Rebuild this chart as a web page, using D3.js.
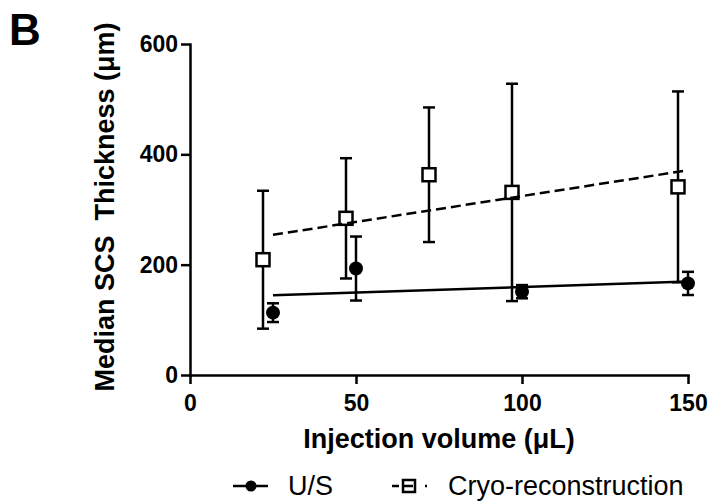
<!DOCTYPE html>
<meta charset="utf-8">
<style>
body { margin: 0; background: #fff; }
text { font-family: "Liberation Sans", Arial, sans-serif; fill: #000; }
.axis path, .axis line { stroke: #000; stroke-width: 2.5px; }
.axis path { stroke-linecap: square; }
.axis text { font-size: 23px; font-weight: bold; }
.bar { stroke: #000; stroke-width: 2.5px; }
.fit { fill: none; stroke: #000; stroke-width: 2.5px; }
</style>
<svg width="708" height="504"></svg>
<script src="https://d3js.org/d3.v7.min.js"></script>
<script>

// data
var usVolume = [25, 50, 100, 150];
var usMedian = [113, 193, 151, 166];
var usSD = [17, 58, 12, 21];

var cryoVolume = [25, 50, 75, 100, 150];
var cryoMedian = [209, 284, 363, 331, 341];
var cryoSD = [125, 109, 122, 197, 173];

var xTicks = [0, 50, 100, 150];
var yTicks = [0, 200, 400, 600];
var seriesNames = ["U/S", "Cryo-reconstruction"];

var svg = d3.select("svg");
svg.append("rect").attr("width", 708).attr("height", 504).attr("fill", "#fff");

var x = d3.scaleLinear().domain([0, 150]).range([190, 688]),
    y = d3.scaleLinear().domain([0, 600]).range([375, 44]);

var nudge = -10; // cryo points are shifted left a bit so bars don't overlap

function fit(xs, ys) {
  var mx = d3.mean(xs), my = d3.mean(ys), sxy = 0, sxx = 0;
  xs.forEach(function(v, i) {
    sxy += (v - mx) * (ys[i] - my);
    sxx += (v - mx) * (v - mx);
  });
  var b = sxy / sxx;
  return function(v) { return my + b * (v - mx); };
}

function rows(xs, ms, sds) {
  return xs.map(function(v, i) { return {x: v, m: ms[i], sd: sds[i]}; });
}

var us = rows(usVolume, usMedian, usSD),
    cryo = rows(cryoVolume, cryoMedian, cryoSD);

// axes
svg.append("g")
    .attr("class", "axis")
    .attr("transform", "translate(0,375)")
    .call(d3.axisBottom(x).tickValues(xTicks).tickSize(9).tickSizeOuter(0).tickPadding(11));

svg.append("g")
    .attr("class", "axis")
    .attr("transform", "translate(190,0)")
    .call(d3.axisLeft(y).tickValues(yTicks).tickSize(9).tickSizeOuter(0).tickPadding(3));

// error bars
function errorBars(data, dx) {
  var g = svg.append("g");
  g.selectAll(".stem").data(data).enter().append("line")
      .attr("class", "bar")
      .attr("x1", function(d) { return x(d.x) + dx; })
      .attr("x2", function(d) { return x(d.x) + dx; })
      .attr("y1", function(d) { return y(d.m - d.sd); })
      .attr("y2", function(d) { return y(d.m + d.sd); });
  [-1, 1].forEach(function(s) {
    g.selectAll(".cap" + s).data(data).enter().append("line")
        .attr("class", "bar")
        .attr("x1", function(d) { return x(d.x) + dx - 6; })
        .attr("x2", function(d) { return x(d.x) + dx + 6; })
        .attr("y1", function(d) { return y(d.m + s * d.sd); })
        .attr("y2", function(d) { return y(d.m + s * d.sd); });
  });
}

errorBars(cryo, nudge);
errorBars(us, 0);

// markers
svg.append("g").selectAll("rect").data(cryo).enter().append("rect")
    .attr("x", function(d) { return x(d.x) + nudge - 6.5; })
    .attr("y", function(d) { return y(d.m) - 6.5; })
    .attr("width", 13).attr("height", 13)
    .attr("fill", "#fff").attr("stroke", "#000").attr("stroke-width", 2.5);

svg.append("g").selectAll("circle").data(us).enter().append("circle")
    .attr("cx", function(d) { return x(d.x); })
    .attr("cy", function(d) { return y(d.m); })
    .attr("r", 7)
    .attr("fill", "#000");

// linear fits
var usFit = fit(usVolume, usMedian),
    cryoFit = fit(cryoVolume, cryoMedian);

var usEnds = d3.extent(usVolume), cryoEnds = d3.extent(cryoVolume);

svg.append("line").attr("class", "fit")
    .attr("x1", x(usEnds[0])).attr("y1", y(usFit(usEnds[0])))
    .attr("x2", x(usEnds[1])).attr("y2", y(usFit(usEnds[1])));

svg.append("line").attr("class", "fit")
    .attr("stroke-dasharray", "10,5")
    .attr("x1", x(cryoEnds[0])).attr("y1", y(cryoFit(cryoEnds[0])))
    .attr("x2", x(cryoEnds[1])).attr("y2", y(cryoFit(cryoEnds[1])));

// titles
svg.append("text")
    .attr("x", 439).attr("y", 448)
    .attr("text-anchor", "middle")
    .style("font-size", "27px").style("font-weight", "bold")
    .text("Injection volume (\u03bcL)");

svg.append("text")
    .attr("transform", "translate(114,207) rotate(-90)")
    .attr("text-anchor", "middle")
    .style("font-size", "27px").style("font-weight", "bold")
    .style("white-space", "pre")
    .text("Median SCS  Thickness (\u03bcm)");

svg.append("text")
    .attr("x", 9).attr("y", 45)
    .style("font-size", "44px").style("font-weight", "bold")
    .text("B");

// legend
var legend = svg.append("g").attr("transform", "translate(0,486)");

legend.append("line").attr("class", "fit")
    .attr("x1", 233).attr("x2", 268).attr("y1", 0).attr("y2", 0);
legend.append("circle").attr("cx", 251).attr("cy", 0).attr("r", 5.5).attr("fill", "#000");
legend.append("text").attr("x", 288).attr("y", 0).attr("dy", "0.35em")
    .style("font-size", "27px").text(seriesNames[0]);

legend.append("rect")
    .attr("x", 403).attr("y", -6).attr("width", 12).attr("height", 12)
    .attr("fill", "#fff").attr("stroke", "#000").attr("stroke-width", 2.5);
legend.append("line").attr("class", "fit")
    .attr("stroke-dasharray", "7,4,10,12,2,20")
    .attr("x1", 392).attr("x2", 427).attr("y1", 0).attr("y2", 0);
legend.append("text").attr("x", 448).attr("y", 0).attr("dy", "0.35em")
    .style("font-size", "27px").text(seriesNames[1]);

</script>
